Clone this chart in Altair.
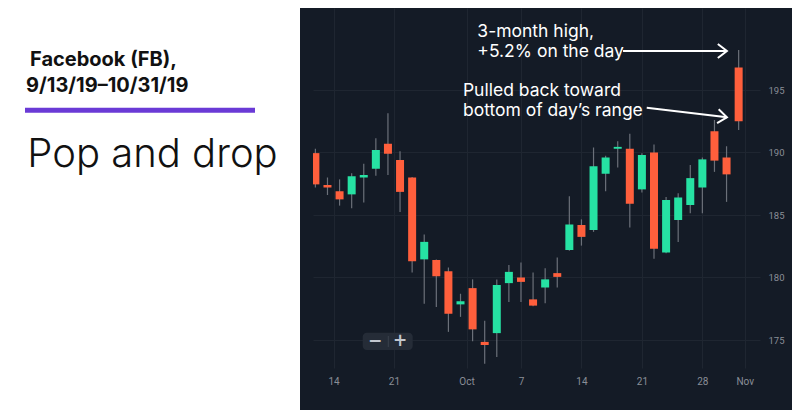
import altair as alt
import pandas as pd

# ---------------- data ----------------
dates = ["Sep 12", "Sep 13", "Sep 16", "Sep 17", "Sep 18", "Sep 19", "Sep 20",
         "Sep 23", "Sep 24", "Sep 25", "Sep 26", "Sep 27", "Sep 30", "Oct 1",
         "Oct 2", "Oct 3", "Oct 4", "Oct 7", "Oct 8", "Oct 9", "Oct 10", "Oct 11",
         "Oct 14", "Oct 15", "Oct 16", "Oct 17", "Oct 18", "Oct 21", "Oct 22",
         "Oct 23", "Oct 24", "Oct 25", "Oct 28", "Oct 29", "Oct 30", "Oct 31"]
opens = [189.95, 187.4, 186.9, 186.65, 188.0, 188.7, 190.7, 189.4, 188.0, 181.45,
         181.4, 180.5, 177.85, 179.15, 174.85, 175.55, 179.55, 180.0, 178.25, 179.2,
         180.35, 182.2, 184.2, 183.8, 188.3, 190.3, 190.3, 187.05, 190.0, 182.0,
         184.6, 185.8, 187.2, 191.7, 189.6, 196.8]
closes = [187.45, 187.2, 186.25, 188.1, 188.2, 190.2, 189.9, 186.85, 181.3, 182.85,
          180.1, 177.1, 178.1, 175.85, 174.6, 179.4, 180.45, 179.65, 177.75, 179.85,
          180.05, 184.25, 183.25, 188.9, 189.6, 190.45, 185.9, 189.8, 182.3, 186.2,
          186.4, 187.95, 189.45, 189.35, 188.25, 192.5]
highs = [190.3, 188.0, 187.85, 188.35, 189.1, 191.15, 193.15, 190.1, 188.05, 183.45,
         181.45, 180.8, 178.7, 179.85, 176.55, 179.85, 181.0, 181.2, 180.4, 180.75,
         181.6, 186.5, 184.65, 190.4, 189.75, 190.9, 191.5, 189.95, 190.65, 186.45,
         186.75, 189.0, 189.6, 192.6, 190.5, 198.2]
lows = [187.2, 186.6, 185.75, 185.55, 186.0, 188.15, 188.2, 185.25, 180.4, 177.9,
        177.65, 175.65, 176.85, 174.9, 173.1, 173.65, 178.05, 178.05, 177.7, 177.95,
        179.2, 182.15, 182.55, 183.65, 186.9, 188.8, 184.0, 186.8, 181.5, 181.95,
        182.85, 185.15, 185.15, 188.45, 186.05, 191.8]

x_tick_pos = [0.5, 5.5, 11.5, 16, 21, 26, 31, 34.5]
x_tick_labels = ["14", "21", "Oct", "7", "14", "21", "28", "Nov"]
y_ticks = [175, 180, 185, 190, 195]

ann_lines = [["3-month high,", "+5.2% on the day"],
             ["Pulled back toward", "bottom of day\u2019s range"]]
ann_text_x = [12.39, 11.2]
ann_text_y = [199.22, 194.52]

arrow_x1 = [24.44, 26.4]
arrow_y1 = [198.12, 193.58]
arrow_x2 = [33.03, 33.03]
arrow_y2 = [198.12, 192.82]
arrow_angle = [0, 6.6]

title_lines = ["Facebook (FB),", "9/13/19\u201310/31/19"]
subtitle = "Pop and drop"

# ---------------- styling ----------------
BG = "#141b26"
GREEN = "#26e2a3"
RED = "#ff5f3c"
WICK = "#6b7079"
GRID = "#1f2631"
LABEL = "#8a8e97"

df = pd.DataFrame({
    "i": list(range(-1, len(dates) - 1)),
    "date": dates, "open": opens, "close": closes, "high": highs, "low": lows,
})
df["dir"] = ["up" if c >= o else "down" for o, c in zip(opens, closes)]

ann = pd.DataFrame({"i": ann_text_x, "p": ann_text_y, "t": ann_lines})
arr = pd.DataFrame({"i": arrow_x1, "p": arrow_y1, "i2": arrow_x2, "p2": arrow_y2, "ang": arrow_angle})

label_expr = " : ".join(
    f"datum.value == {v} ? '{l}'" for v, l in zip(x_tick_pos, x_tick_labels)
) + " : ''"

xscale = alt.Scale(domain=[-0.784, 35.352], nice=False, zero=False)
yscale = alt.Scale(domain=[172.76, 201.56], nice=False, zero=False)
xaxis = alt.Axis(values=x_tick_pos, labelExpr=label_expr, grid=True, gridColor=GRID,
                 domain=False, ticks=False, labelColor=LABEL, labelFontSize=10,
                 labelFont="Roboto", labelPadding=8, labelOverlap=False, labelFlush=False,
                 minExtent=42, maxExtent=42, title=None)
yaxis = alt.Axis(values=y_ticks, orient="right", grid=True, gridColor=GRID, domain=False,
                 ticks=False, labelColor=LABEL, labelFontSize=9.5, labelFont="Roboto",
                 labelAlign="left", labelPadding=8, minExtent=32, maxExtent=32, title=None)


def X(field):
    return alt.X(f"{field}:Q", scale=xscale, axis=xaxis)


def Y(field):
    return alt.Y(f"{field}:Q", scale=yscale, axis=yaxis)


color = alt.Color("dir:N", scale=alt.Scale(domain=["up", "down"], range=[GREEN, RED]), legend=None)

base = alt.Chart(df)
wicks = base.mark_rule(color=WICK, strokeWidth=1.2, clip=True).encode(
    x=X("i"), y=Y("low"), y2="high")
bodies = base.mark_bar(width=8, clip=True).encode(
    x=X("i"), y=Y("open"), y2="close", color=color)

arrow_lines = alt.Chart(arr).mark_rule(color="white", strokeWidth=2).encode(
    x=X("i"), y=Y("p"), x2="i2", y2="p2")
arrow_heads = alt.Chart(arr).mark_point(
    shape="M -1.3 -1 L 0 0 L -1.3 1", filled=False, color="white",
    strokeWidth=2, size=196, opacity=1).encode(
    x=alt.X("i2:Q", scale=xscale, axis=xaxis), y=alt.Y("p2:Q", scale=yscale, axis=yaxis),
    angle=alt.Angle("ang:Q", scale=None))
ann_text = alt.Chart(ann).mark_text(align="left", baseline="alphabetic", font="Inter",
                                    fontSize=17.5, lineHeight=19.5, color="white").encode(
    x=X("i"), y=Y("p"), text="t")

one = pd.DataFrame({"a": [0]})
zoom_box = alt.Chart(one).mark_rect(color="#252c37", cornerRadius=4).encode(
    x=alt.value(49.7), x2=alt.value(99.7), y=alt.value(324.7), y2=alt.value(342))
zoom_div = alt.Chart(one).mark_rule(color="#3a414c", strokeWidth=1).encode(
    x=alt.value(75.3), y=alt.value(328), y2=alt.value(339))
zoom_minus = alt.Chart(one).mark_text(text="\u2212", color="#c3c7cf", fontSize=17,
                                      font="DejaVu Sans", fontWeight="bold").encode(
    x=alt.value(62), y=alt.value(333.3))
zoom_plus = alt.Chart(one).mark_text(text="+", color="#c3c7cf", fontSize=17,
                                     font="DejaVu Sans", fontWeight="bold").encode(
    x=alt.value(87), y=alt.value(333.3))

right = alt.layer(wicks, bodies, arrow_lines, arrow_heads, ann_text,
                  zoom_box, zoom_div, zoom_minus, zoom_plus).properties(
    width=447, height=360, view=alt.ViewBackground(fill=BG, stroke=None))

t1 = alt.Chart(one).mark_text(text=title_lines[0], align="left", baseline="alphabetic",
                              font="Inter", fontSize=20, fontWeight="bold", color="#111111").encode(
    x=alt.value(22), y=alt.value(57.7))
t2 = alt.Chart(one).mark_text(text=title_lines[1], align="left", baseline="alphabetic",
                              font="Inter", fontSize=20, fontWeight="bold", color="#111111").encode(
    x=alt.value(18), y=alt.value(83.7))
bar = alt.Chart(one).mark_rule(color="#6a3ad6", strokeWidth=5).encode(
    x=alt.value(17), x2=alt.value(247), y=alt.value(102.2))
t3 = alt.Chart(one).mark_text(text=subtitle, align="left", baseline="alphabetic",
                              font="Inter", fontSize=40, fontWeight=300, color="#111111").encode(
    x=alt.value(19.3), y=alt.value(158.7))

left = alt.layer(t1, t2, bar, t3).properties(
    width=292, height=402, view=alt.ViewBackground(fill="white", stroke=None))

chart = alt.hconcat(left, right, spacing=13).configure(
    background=BG, padding=0).configure_view(stroke=None)

chart.save("out.html", embed_options={"renderer": "svg", "actions": False})
